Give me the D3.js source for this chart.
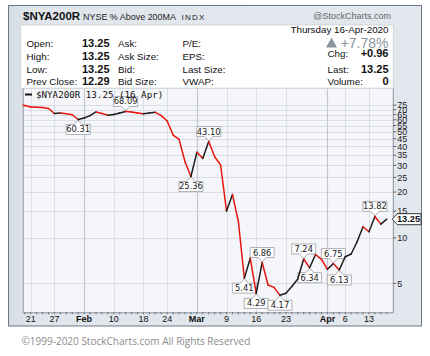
<!DOCTYPE html>
<html><head><meta charset="utf-8">
<script src="https://cdn.jsdelivr.net/npm/d3@7"></script>
<style>
html,body{margin:0;padding:0;background:#fff;}
svg{display:block;font-family:"Liberation Sans",Arial,sans-serif;}
</style></head>
<body>
<svg id="c" width="430" height="356"></svg>
<script>
// ---- data ----
const dates = [
 "2020-01-16","2020-01-17","2020-01-21","2020-01-22","2020-01-23","2020-01-24","2020-01-27","2020-01-28","2020-01-29","2020-01-30","2020-01-31",
 "2020-02-03","2020-02-04","2020-02-05","2020-02-06","2020-02-07","2020-02-10","2020-02-11","2020-02-12","2020-02-13","2020-02-14",
 "2020-02-18","2020-02-19","2020-02-20","2020-02-21","2020-02-24","2020-02-25","2020-02-26","2020-02-27","2020-02-28",
 "2020-03-02","2020-03-03","2020-03-04","2020-03-05","2020-03-06","2020-03-09","2020-03-10","2020-03-11","2020-03-12","2020-03-13",
 "2020-03-16","2020-03-17","2020-03-18","2020-03-19","2020-03-20","2020-03-23","2020-03-24","2020-03-25","2020-03-26","2020-03-27",
 "2020-03-30","2020-03-31","2020-04-01","2020-04-02","2020-04-03","2020-04-06","2020-04-07","2020-04-08","2020-04-09",
 "2020-04-13","2020-04-14","2020-04-15","2020-04-16"
];
const values = [
 75.7,74.6,72.9,72.6,72.4,71.2,66.0,66.5,65.8,64.8,60.31,
 61.7,63.9,67.6,66.0,64.3,65.0,66.5,68.09,67.6,66.5,
 65.7,66.5,67.2,63.9,58.9,47.6,44.6,31.7,25.36,
 36.6,33.4,43.10,34.2,30.2,15.0,19.3,12.75,5.41,7.31,
 4.29,6.86,4.87,4.70,4.17,4.30,4.76,5.34,7.24,6.34,
 7.75,7.20,6.19,6.75,6.13,7.49,7.81,9.41,11.82,
 10.95,13.82,12.29,13.25
];
const yTicks = [5,10,15,20,25,30,35,40,45,50,55,60,65,70,75];
const xTickDates = ["2020-01-21","2020-01-27","2020-02-03","2020-02-10","2020-02-18","2020-02-24","2020-03-02","2020-03-09","2020-03-16","2020-03-23","2020-04-01","2020-04-06","2020-04-13"];
const xTickLabels = ["21","27","Feb","10","18","24","Mar","9","16","23","Apr","6","13"];
const monthTicks = ["Feb","Mar","Apr"];
const annotDates = ["2020-01-31","2020-02-12","2020-02-28","2020-03-04","2020-03-12","2020-03-16","2020-03-17","2020-03-20","2020-03-26","2020-03-27","2020-04-02","2020-04-03","2020-04-14"];
const infoLeft = [["Open:","13.25"],["High:","13.25"],["Low:","13.25"],["Prev Close:","12.29"]];
const infoMid = ["Ask:","Ask Size:","Bid:","Bid Size:"];
const infoMid2 = ["P/E:","EPS:","Last Size:","VWAP:"];
const infoRight = [["Chg:","+0.96"],["Last:","13.25"],["Volume:","0"]];

// ---- layout ----
const svg = d3.select("#c");
const P = {l:22.7, r:393.3, t:88.3, b:312.3};
const x = d3.scaleLinear().domain([0.652, 63.10]).range([P.l, P.r]);
const y = d3.scaleLog().domain([3.219, 96.85]).range([P.b, P.t]);
const idx = d => dates.indexOf(d);

// panel
const defs = svg.append("defs");
const g1 = defs.append("linearGradient").attr("id","pg").attr("x1",0).attr("x2",1).attr("y1",0).attr("y2",0);
g1.append("stop").attr("offset","0").attr("stop-color","#d4dae4");
g1.append("stop").attr("offset","0.05").attr("stop-color","#e1e6ed");
g1.append("stop").attr("offset","1").attr("stop-color","#e3e7ee");
svg.append("rect").attr("x",8.5).attr("y",5.5).attr("width",413).attr("height",320.5)
  .attr("fill","url(#pg)").attr("stroke","#6f7784").attr("stroke-width",1);

// header
svg.append("text").attr("x",23).attr("y",20).attr("font-size",11.5).attr("font-weight","bold").attr("fill","#111").text("$NYA200R");
svg.append("text").attr("x",83).attr("y",20).attr("font-size",9.6).attr("fill","#222")
  .attr("textLength",93).attr("lengthAdjust","spacingAndGlyphs").text("NYSE % Above 200MA");
svg.append("text").attr("x",181.5).attr("y",20).attr("font-size",8).attr("letter-spacing",1.2).attr("fill","#222").text("INDX");
svg.append("text").attr("x",391).attr("y",19).attr("text-anchor","end").attr("font-size",9).attr("fill","#666").text("@StockCharts.com");

// info box
svg.append("rect").attr("x",20.7).attr("y",25).attr("width",372.6).attr("height",63.3).attr("fill","#fff").attr("stroke","#c9ced6").attr("stroke-width",0.8);
const rowY = [46.8,60,72.6,85];
infoLeft.forEach((r,i)=>{
  svg.append("text").attr("x",26.5).attr("y",rowY[i]).attr("font-size",9.8).attr("fill","#111").text(r[0]);
  svg.append("text").attr("x",82).attr("y",rowY[i]).attr("font-size",11).attr("font-weight","bold").attr("fill","#111").text(r[1]);
});
infoMid.forEach((t,i)=>svg.append("text").attr("x",118).attr("y",rowY[i]).attr("font-size",9.8).attr("fill","#111").text(t));
infoMid2.forEach((t,i)=>svg.append("text").attr("x",182.5).attr("y",rowY[i]).attr("font-size",9.8).attr("fill","#111").text(t));
svg.append("text").attr("x",388.5).attr("y",32.5).attr("text-anchor","end").attr("font-size",9.8).attr("fill","#111").text("Thursday  16-Apr-2020");
svg.append("path").attr("d","M326,47.5 L331.5,37.5 L337,47.5 Z").attr("fill","#8a95a2");
svg.append("text").attr("x",388.5).attr("y",47.5).attr("text-anchor","end").attr("font-size",14).attr("fill","#8a95a2").text("+7.78%");
const rY2 = [57,73.2,85];
infoRight.forEach((r,i)=>{
  svg.append("text").attr("x",327.5).attr("y",rY2[i]).attr("font-size",9.8).attr("fill","#111").text(r[0]);
  svg.append("text").attr("x",388.5).attr("y",rY2[i]).attr("text-anchor","end").attr("font-size",11).attr("font-weight","bold").attr("fill","#111").text(r[1]);
});

// plot background
svg.append("rect").attr("x",P.l).attr("y",P.t).attr("width",P.r-P.l).attr("height",P.b-P.t).attr("fill","#f5f6f9");

// grid
const grid = svg.append("g");
yTicks.forEach(v=>{
  grid.append("line").attr("x1",P.l).attr("x2",P.r).attr("y1",Math.round(y(v))+0.5).attr("y2",Math.round(y(v))+0.5)
   .attr("stroke","#dcdee5").attr("stroke-width",1);
});
xTickDates.forEach((d,i)=>{
  const xx = Math.round(x(idx(d)))+0.5;
  const isM = monthTicks.includes(xTickLabels[i]);
  grid.append("line").attr("x1",xx).attr("x2",xx).attr("y1",P.t).attr("y2",P.b)
   .attr("stroke",isM?"#c4c7d0":"#dcdee5").attr("stroke-width",isM?1.2:1);
});

// plot frame
svg.append("path").attr("d",`M${P.l+0.5},${P.t} L${P.l+0.5},${P.b+0.5} L${P.r},${P.b+0.5} L${P.r},${P.t}`)
  .attr("fill","none").attr("stroke","#8c929c").attr("stroke-width",1);
svg.append("line").attr("x1",P.l).attr("x2",P.r).attr("y1",P.t).attr("y2",P.t).attr("stroke","#c9ced6").attr("stroke-width",0.8);

// x axis
const xa = svg.append("g");
dates.forEach((d,k)=>{
  const xx = x(k);
  if (xx < P.l || xx > P.r) return;
  xa.append("line").attr("x1",xx).attr("x2",xx).attr("y1",P.b).attr("y2",P.b+2).attr("stroke","#555").attr("stroke-width",0.8);
});
xTickDates.forEach((d,i)=>{
  const isM = monthTicks.includes(xTickLabels[i]);
  xa.append("text").attr("x",x(idx(d))).attr("y",321.8).attr("text-anchor","middle")
    .attr("font-size",9).attr("font-weight",isM?"bold":"normal").attr("fill","#111").text(xTickLabels[i]);
});

// y axis (right)
const ya = svg.append("g");
yTicks.forEach(v=>{
  ya.append("line").attr("x1",P.r).attr("x2",P.r+3).attr("y1",y(v)).attr("y2",y(v)).attr("stroke","#444").attr("stroke-width",0.8);
  ya.append("text").attr("x",P.r+4).attr("y",y(v)+3.2).attr("font-size",9).attr("fill","#222").text(v);
});

// annotations
const ann = svg.append("g");
annotDates.forEach(d=>{
  const k = idx(d), v = values[k];
  const px = x(k), py = y(v);
  const prev = values[k-1];
  const above = v > prev;
  const txt = v.toFixed(2);
  const w = 24, h = 10;
  const bx = px - w/2;
  let path, ty;
  if (above) {
    const bb = py - 5, bt = bb - h;
    path = `M${bx},${bt} L${bx+w},${bt} L${bx+w},${bb} L${px+4},${bb} L${px},${py-0.5} L${px-4},${bb} L${bx},${bb} Z`;
    ty = bb - 2;
  } else {
    const bt = py + 5, bb = bt + h;
    path = `M${bx},${bt} L${px-4},${bt} L${px},${py+0.5} L${px+4},${bt} L${bx+w},${bt} L${bx+w},${bb} L${bx},${bb} Z`;
    ty = bb - 2;
  }
  ann.append("path").attr("d",path).attr("fill","#fdfdfd").attr("stroke","#9a9ea6").attr("stroke-width",0.8);
  ann.append("text").attr("x",px).attr("y",ty).attr("text-anchor","middle").attr("font-family","DejaVu Sans")
    .attr("font-size",8.3).attr("fill","#222").text(txt);
});

// price line, colored by direction
svg.append("clipPath").attr("id","pc").append("rect").attr("x",P.l).attr("y",P.t).attr("width",P.r-P.l).attr("height",P.b-P.t);
const lg = svg.append("g").attr("clip-path","url(#pc)");
const line = d3.line().x(d=>x(d[0])).y(d=>y(d[1]));
for (let k=1;k<values.length;k++){
  lg.append("path").attr("d",line([[k-1,values[k-1]],[k,values[k]]]))
    .attr("fill","none").attr("stroke", values[k] < values[k-1] ? "#e8150f" : "#1c1c1c")
    .attr("stroke-width",1.5).attr("stroke-linecap","round");
}

// legend
svg.append("line").attr("x1",25).attr("x2",32).attr("y1",94.5).attr("y2",94.5).attr("stroke","#111").attr("stroke-width",2);
svg.append("text").attr("x",36).attr("y",98).attr("font-family","DejaVu Sans Mono, monospace").attr("font-size",9.2).attr("fill","#111")
  .text("$NYA200R 13.25 (16 Apr)");

// last price tag
const lv = values[values.length-1], ly = y(lv);
svg.append("path").attr("d",`M${P.r-1},${ly} L${P.r+4},${ly-5.5} L421,${ly-5.5} L421,${ly+5.5} L${P.r+4},${ly+5.5} Z`)
  .attr("fill","#fff").attr("stroke","#222").attr("stroke-width",0.9);
svg.append("text").attr("x",408.5).attr("y",ly+3.3).attr("text-anchor","middle").attr("font-size",9.2).attr("font-weight","bold").attr("fill","#111").text(lv.toFixed(2));

// copyright
svg.append("text").attr("x",21.5).attr("y",345).attr("font-family","Open Sans, sans-serif").attr("font-size",10).attr("fill","#8c8c8c")
  .text("©1999-2020 StockCharts.com All Rights Reserved");
</script>
</body></html>
